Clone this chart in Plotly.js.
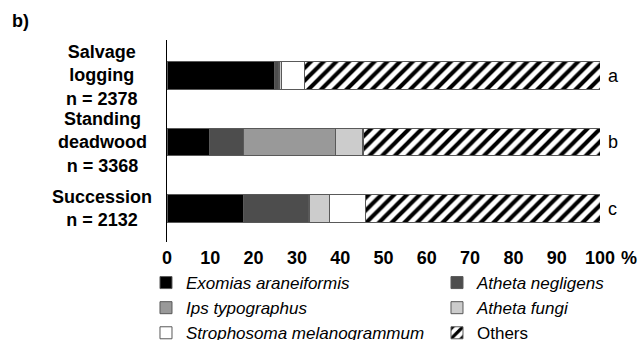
<!DOCTYPE html>
<html>
<head>
<meta charset="utf-8">
<script src="https://cdn.plot.ly/plotly-3.0.1.min.js"></script>
<style>html,body{margin:0;padding:0;background:#fff;}#chart{width:638px;height:340px;}</style>
</head>
<body>
<div id="chart"></div>
<script>
// Category data
var siteNames = ['Salvage<br>logging', 'Standing<br>deadwood', 'Succession'];
var sampleSizes = [2378, 3368, 2132];
var groupLetters = ['a', 'b', 'c'];
var categories = ['Salvage logging', 'Standing deadwood', 'Succession'];

// Series values (% of individuals)
var exomias = [24.9, 9.8, 17.7];
var negligens = [0.8, 7.8, 14.9];
var ips = [0.3, 21.3, 0.2];
var fungi = [0.5, 6.2, 4.8];
var strophosoma = [5.3, 0.3, 8.2];
var others = [68.2, 54.6, 54.2];

// X tick labels
var xTicks = [0, 10, 20, 30, 40, 50, 60, 70, 80, 90, 100];

var FONT = 'Liberation Sans, Arial, sans-serif';
var lineStyle = {color: '#595959', width: 1};

function mk(name, vals, color, pattern) {
  var m = {color: color, line: lineStyle};
  if (pattern) m.pattern = pattern;
  return {
    type: 'bar', orientation: 'h', name: name,
    x: vals, y: categories, marker: m, hoverinfo: 'x+name'
  };
}

var data = [
  mk('<i>Exomias araneiformis</i>', exomias, '#000000'),
  mk('<i>Atheta negligens</i>', negligens, '#4d4d4d'),
  mk('<i>Ips typographus</i>', ips, '#999999'),
  mk('<i>Atheta fungi</i>', fungi, '#cccccc'),
  mk('<i>Strophosoma melanogrammum</i>', strophosoma, '#ffffff'),
  mk('Others', others, '#ffffff', {shape: '/', fgcolor: '#000000', bgcolor: '#ffffff', size: 9, solidity: 0.45, fgopacity: 1})
];

var annotations = [];
categories.forEach(function (c, i) {
  annotations.push({
    xref: 'paper', yref: 'y', x: -0.15, y: c,
    text: '<b>' + siteNames[i] + '<br>n = ' + sampleSizes[i] + '</b>',
    showarrow: false, xanchor: 'center', yanchor: 'middle', align: 'center',
    font: {family: FONT, size: 18, color: '#000'}
  });
  annotations.push({
    xref: 'x', yref: 'y', x: 100, y: c, text: groupLetters[i],
    showarrow: false, xanchor: 'left', yanchor: 'middle', xshift: 6,
    font: {family: FONT, size: 18, color: '#000'}
  });
});
annotations.push({
  xref: 'paper', yref: 'paper', x: -0.3626, y: 1.094, text: '<b>b)</b>',
  showarrow: false, xanchor: 'left', yanchor: 'middle',
  font: {family: FONT, size: 18, color: '#000'}
});
annotations.push({
  xref: 'x', yref: 'paper', x: 100, y: -0.078, text: '<b>%</b>',
  showarrow: false, xanchor: 'left', yanchor: 'middle', xshift: 19,
  font: {family: FONT, size: 18, color: '#000'}
});

var layout = {
  width: 638, height: 340,
  margin: {l: 167, r: 38, t: 40, b: 98, autoexpand: false},
  paper_bgcolor: '#fff', plot_bgcolor: '#fff',
  barmode: 'stack', bargap: 0.585,
  font: {family: FONT, size: 18, color: '#000'},
  showlegend: true,
  legend: {
    orientation: 'h', x: -0.0485, xanchor: 'left', y: -0.114, yanchor: 'top',
    entrywidth: 246, traceorder: 'normal', bgcolor: 'rgba(0,0,0,0)',
    font: {family: FONT, size: 17, color: '#000'}
  },
  xaxis: {
    range: [0, 100], tickvals: xTicks, ticktext: xTicks.map(function (v) { return '<b>' + v + '</b>'; }),
    showgrid: false, zeroline: false, showline: false, ticks: '', ticklabelstandoff: 3,
    tickfont: {family: FONT, size: 18, color: '#000'}, fixedrange: true
  },
  yaxis: {
    autorange: 'reversed', showticklabels: false, showgrid: false, zeroline: false,
    showline: true, linecolor: '#000', linewidth: 1.5, ticks: '', fixedrange: true
  },
  annotations: annotations
};

Plotly.newPlot('chart', data, layout, {displayModeBar: false, staticPlot: true});
</script>
</body>
</html>
